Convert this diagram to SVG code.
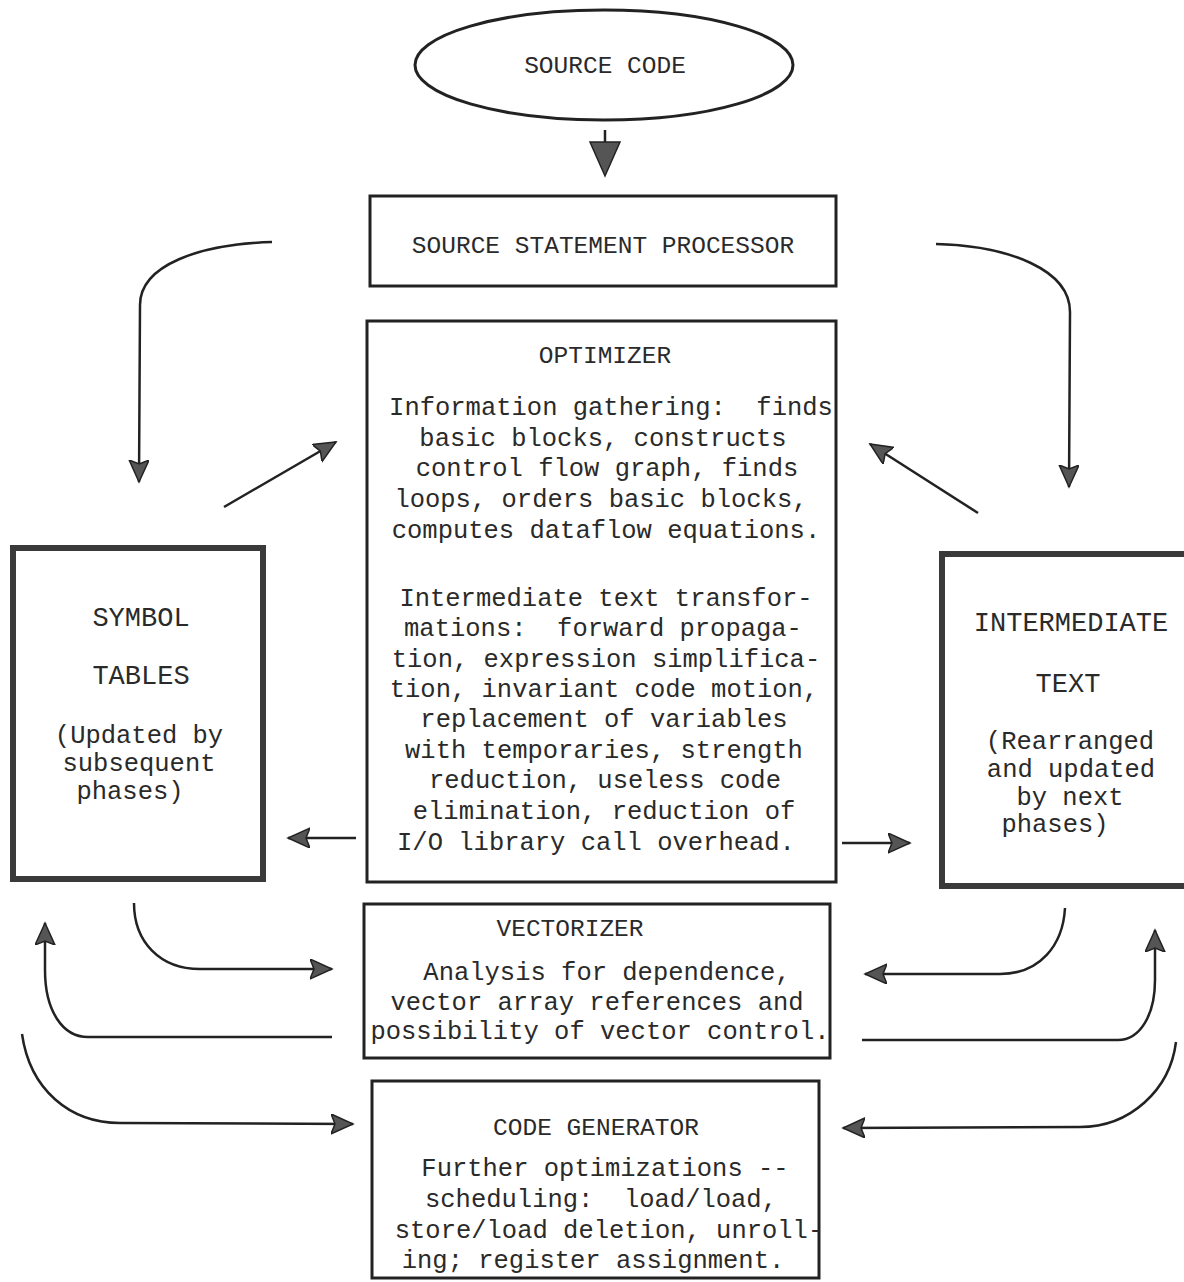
<svg xmlns="http://www.w3.org/2000/svg" width="1184" height="1282" viewBox="0 0 1184 1282">
<style>
text{font-family:"Liberation Mono","Courier New",monospace;fill:#2a2a2a;text-anchor:middle;white-space:pre}
.t{font-size:24.5px}
.b{font-size:25.5px}
.s{font-size:27px}
.box{fill:none;stroke:#222;stroke-width:3}
.thick{fill:none;stroke:#3a3a3a;stroke-width:6}
.c{fill:none;stroke:#222;stroke-width:2.5;marker-end:url(#ah)}
</style>
<defs>
<marker id="ah" markerUnits="userSpaceOnUse" markerWidth="24" markerHeight="22" refX="22" refY="10" orient="auto" viewBox="0 0 24 22">
<path d="M0,0 L22,10 L0,20 L4,10 z" fill="#555" stroke="#222" stroke-width="1.5"/>
</marker>
</defs>
<rect width="1184" height="1282" fill="#fff"/>
<g id="source-code">
<ellipse cx="604" cy="65" rx="189" ry="55" fill="none" stroke="#222" stroke-width="3"/>
<text class="t" x="605" y="73">SOURCE CODE</text>
</g>
<g id="source-statement-processor">
<rect class="box" x="370" y="196" width="466" height="90"/>
<text class="t" x="603" y="253">SOURCE STATEMENT PROCESSOR</text>
</g>
<g id="optimizer">
<rect class="box" x="367" y="321" width="469" height="561"/>
<text class="t" x="605" y="363">OPTIMIZER</text>
<text class="b" x="611" y="415" xml:space="preserve">Information gathering:  finds</text>
<text class="b" x="603" y="446">basic blocks, constructs</text>
<text class="b" x="607" y="476">control flow graph, finds</text>
<text class="b" x="601" y="507">loops, orders basic blocks,</text>
<text class="b" x="606" y="538">computes dataflow equations.</text>
<text class="b" x="606" y="606">Intermediate text transfor-</text>
<text class="b" x="603" y="636" xml:space="preserve">mations:  forward propaga-</text>
<text class="b" x="606" y="667">tion, expression simplifica-</text>
<text class="b" x="604" y="697">tion, invariant code motion,</text>
<text class="b" x="604" y="727">replacement of variables</text>
<text class="b" x="604" y="758">with temporaries, strength</text>
<text class="b" x="605" y="788">reduction, useless code</text>
<text class="b" x="604" y="819">elimination, reduction of</text>
<text class="b" x="596" y="850">I/O library call overhead.</text>
</g>
<g id="symbol-tables">
<rect class="thick" x="13" y="548" width="250" height="331"/>
<text class="s" x="141" y="626">SYMBOL</text>
<text class="s" x="141" y="684">TABLES</text>
<text class="b" x="139" y="743">(Updated by</text>
<text class="b" x="139" y="771">subsequent</text>
<text class="b" x="130" y="799">phases)</text>
</g>
<g id="intermediate-text">
<rect class="thick" x="942" y="554" width="260" height="332"/>
<text class="s" x="1071" y="631">INTERMEDIATE</text>
<text class="s" x="1068" y="692">TEXT</text>
<text class="b" x="1070" y="749">(Rearranged</text>
<text class="b" x="1071" y="777">and updated</text>
<text class="b" x="1070" y="805">by next</text>
<text class="b" x="1055" y="832">phases)</text>
</g>
<g id="vectorizer">
<rect class="box" x="364" y="904" width="466" height="154"/>
<text class="t" x="570" y="936">VECTORIZER</text>
<text class="b" x="607" y="980">Analysis for dependence,</text>
<text class="b" x="597" y="1010">vector array references and</text>
<text class="b" x="600" y="1039">possibility of vector control.</text>
</g>
<g id="code-generator">
<rect class="box" x="372" y="1081" width="447" height="197"/>
<text class="t" x="596" y="1135">CODE GENERATOR</text>
<text class="b" x="605" y="1176">Further optimizations --</text>
<text class="b" x="601" y="1207" xml:space="preserve">scheduling:  load/load,</text>
<text class="b" x="609" y="1238">store/load deletion, unroll-</text>
<text class="b" x="593" y="1268">ing; register assignment.</text>
</g>
<g id="connectors">
<line x1="605" y1="130" x2="605" y2="143" stroke="#222" stroke-width="2.5"/>
<polygon points="590,142 620,142 605,176" fill="#555" stroke="#222" stroke-width="1.5"/>
<path class="c" d="M272,242 C200,244 140,265 140,305 L139,482"/>
<path class="c" d="M936,244 C1010,246 1070,270 1070,312 L1069,487"/>
<path class="c" d="M224,507 L336,442"/>
<path class="c" d="M978,513 L870,444"/>
<path class="c" d="M356,838 L288,838"/>
<path class="c" d="M842,843 L910,843"/>
<path class="c" d="M134,903 C134,942 160,969 200,969 L332,969"/>
<path class="c" d="M332,1037 L88,1037 C62,1037 45,1010 45,970 L45,923"/>
<path class="c" d="M22,1034 C30,1090 70,1123 120,1123 L353,1124"/>
<path class="c" d="M1065,908 C1063,945 1040,974 1000,974 L865,974"/>
<path class="c" d="M862,1040 L1118,1040 C1140,1040 1155,1015 1155,980 L1155,930"/>
<path class="c" d="M1176,1042 C1170,1090 1130,1127 1080,1127 L843,1128"/>
</g>
</svg>
